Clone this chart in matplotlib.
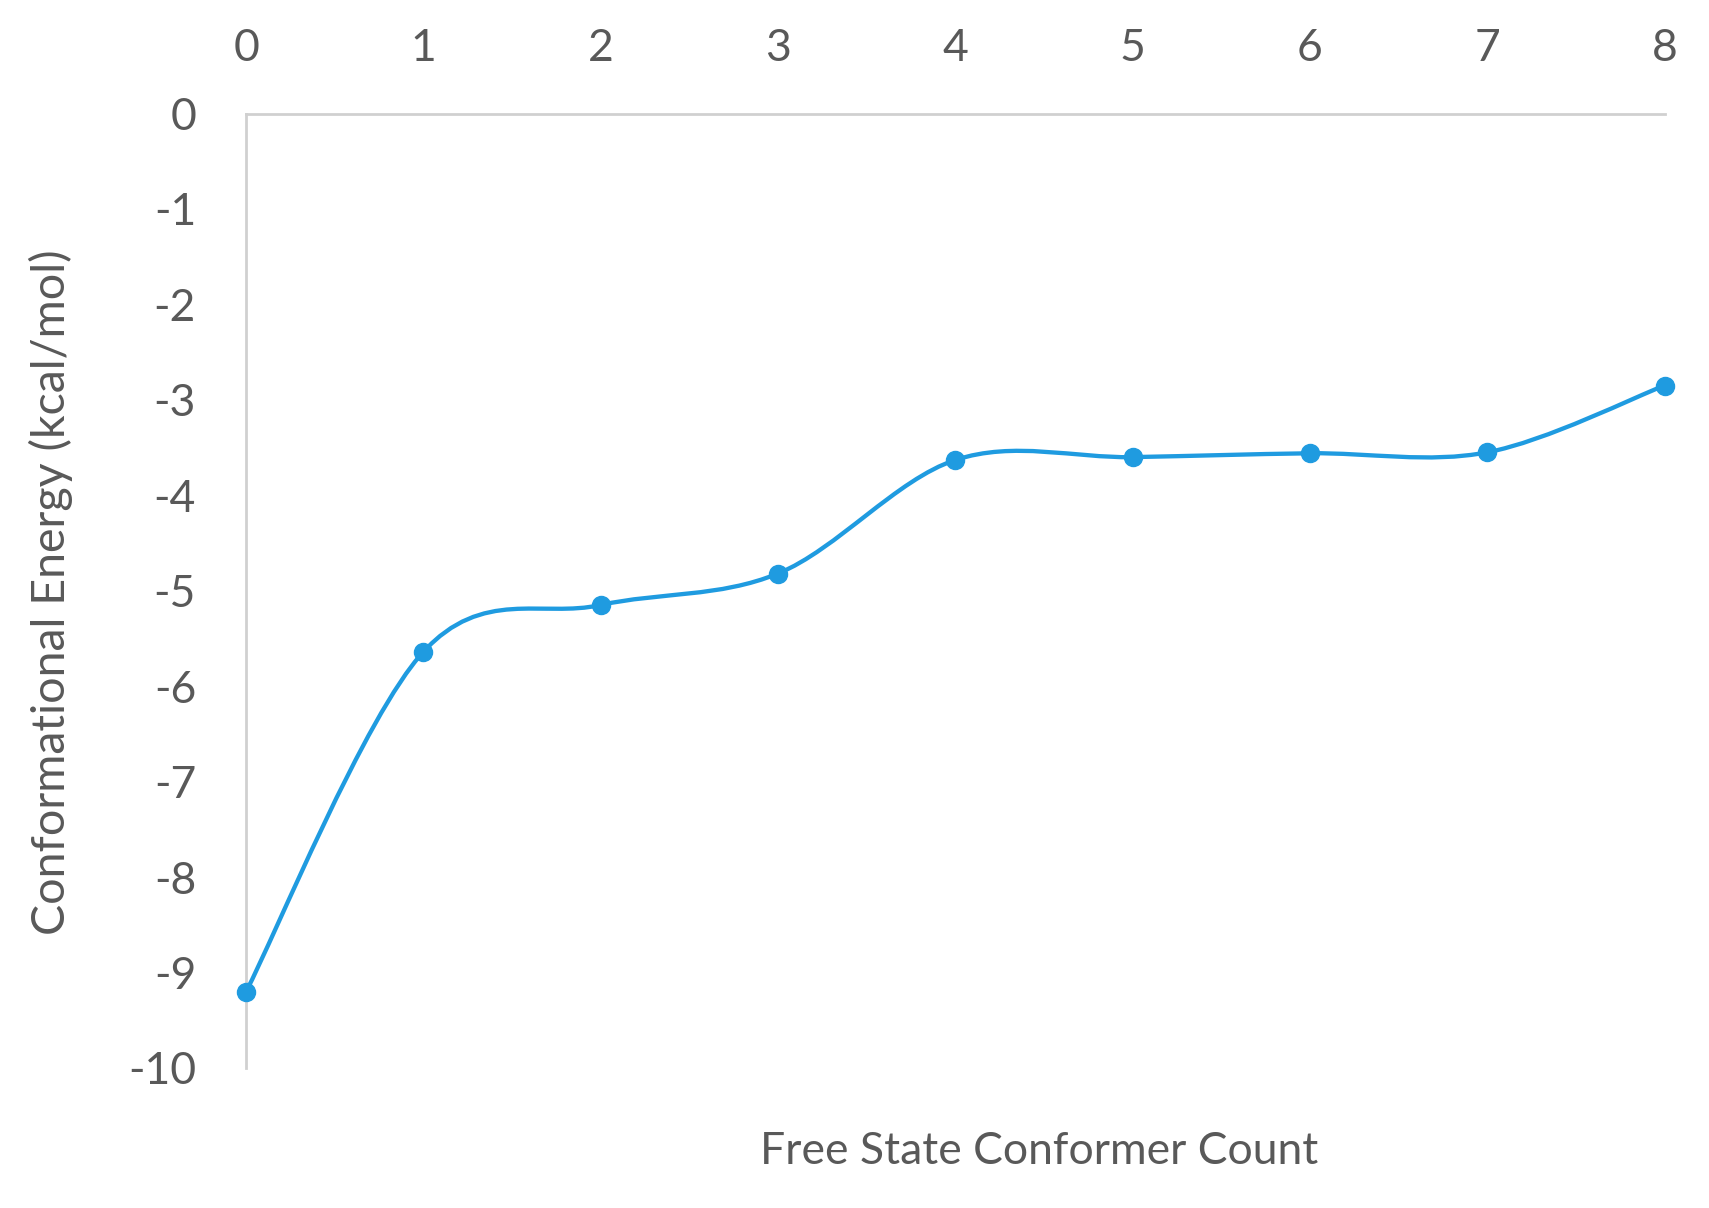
import matplotlib
matplotlib.use("Agg")
import matplotlib.pyplot as plt
from matplotlib.path import Path
from matplotlib.patches import PathPatch
import numpy as np

# data
conformer_count = [0, 1, 2, 3, 4, 5, 6, 7, 8]
energy = [-9.2, -5.64, -5.15, -4.82, -3.63, -3.6, -3.56, -3.55, -2.85]
x_ticks = list(range(0, 9))
y_ticks = list(range(-10, 1))

plt.rcParams['font.family'] = ['Lato', 'DejaVu Sans']
plt.rcParams['axes.unicode_minus'] = False
text_col = '#595959'
line_col = '#1f9be0'
spine_col = '#d0d0d0'

fig = plt.figure(figsize=(17.09, 12.08), dpi=100)
ax = fig.add_axes([0.144, 0.116, 0.830, 0.790])

# smoothed line like excel: catmull-rom segments as cubic beziers
x = np.array(conformer_count, dtype=float)
y = np.array(energy, dtype=float)
xp = np.concatenate([[x[0]], x, [x[-1]]])
yp = np.concatenate([[y[0]], y, [y[-1]]])
verts = [(x[0], y[0])]
codes = [Path.MOVETO]
for i in range(len(x) - 1):
    j = i + 1
    c1 = (x[i] + (xp[j + 1] - xp[j - 1]) / 6, y[i] + (yp[j + 1] - yp[j - 1]) / 6)
    c2 = (x[i + 1] - (xp[j + 2] - xp[j]) / 6, y[i + 1] - (yp[j + 2] - yp[j]) / 6)
    verts += [c1, c2, (x[i + 1], y[i + 1])]
    codes += [Path.CURVE4, Path.CURVE4, Path.CURVE4]
ax.add_patch(PathPatch(Path(verts, codes), fill=False, edgecolor=line_col,
                       lw=3.1, capstyle='round', zorder=3))
ax.plot(conformer_count, energy, linestyle='none', marker='o', markersize=13,
        color=line_col, zorder=4, clip_on=False)

ax.set_xlim(0, 8)
ax.set_ylim(-10, 0)
ax.xaxis.tick_top()
ax.set_xticks(x_ticks)
ax.set_yticks(y_ticks)
ax.tick_params(length=0, labelsize=32, colors=text_col)
ax.tick_params(axis='x', pad=32)
ax.tick_params(axis='y', pad=36)

for s in ['right', 'bottom']:
    ax.spines[s].set_visible(False)
for s in ['left', 'top']:
    ax.spines[s].set_color(spine_col)
    ax.spines[s].set_linewidth(2)

fig.text(0.608, 0.047, 'Free State Conformer Count', ha='center', va='center',
         fontsize=32, color=text_col)
fig.text(0.030, 0.510, 'Conformational Energy (kcal/mol)', ha='center', va='center',
         rotation=90, fontsize=33.5, color=text_col)

fig.savefig('out.png', dpi=100)
